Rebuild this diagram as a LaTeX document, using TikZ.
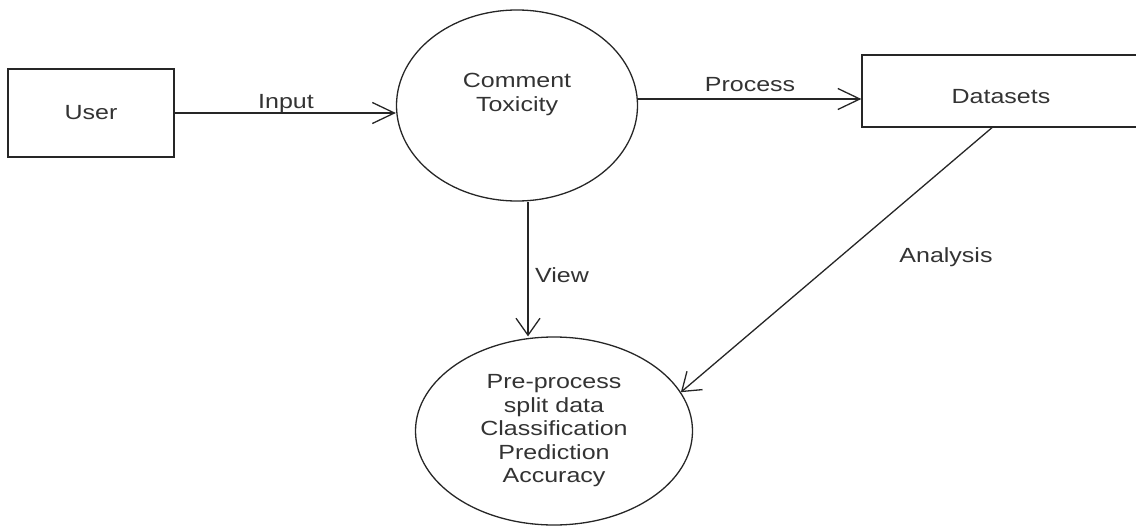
\documentclass[tikz,border=0pt]{standalone}
\usepackage{fontspec}
\setmainfont{Liberation Sans}[FakeStretch=1.22]
\usetikzlibrary{shapes.geometric,arrows.meta}
\tikzset{
  ln/.style={draw=black!85, line width=1.3pt},
  boxnode/.style={ln, rectangle, inner sep=0pt},
  bubble/.style={ln, ellipse, inner sep=0pt, align=center},
  flow/.style={ln, -{Straight Barb[length=17pt,width=24pt]}},
  hflow/.style={ln, -{Straight Barb[length=22pt,width=21pt]}},
  lbl/.style={text=black!80, inner sep=0pt, anchor=base},
}
\begin{document}
\begin{tikzpicture}[x=1pt,y=-1pt,font=\fontsize{20.5}{23.5}\selectfont,text=black!80]
\useasboundingbox (0,0) rectangle (1136,527);

% external entity and processes
\node[boxnode, minimum width=166pt, minimum height=88pt] (user) at (91,113) {User};
\node[bubble, minimum width=241pt, minimum height=191pt] (ctox) at (517,105.5)
  {\raisebox{10.5pt}[\height][\depth]{\begin{tabular}{@{}c@{}}Comment\\Toxicity\end{tabular}}};
\node[bubble, minimum width=277pt, minimum height=188pt] (pp) at (554,431)
  {Pre-process\\split data\\Classification\\Prediction\\Accuracy};

% data store, running off the right edge
\begin{scope}
  \clip (0,0) rectangle (1136,527);
  \node[boxnode, minimum width=278pt, minimum height=72pt] (data) at (1001,91)
    {\raisebox{-6pt}[\height][\depth]{Datasets}};
\end{scope}

% flows
\draw[hflow] (user.east) -- (user.east -| ctox.west);
\draw[hflow] ([yshift=6.5pt]ctox.east) -- ([yshift=-8pt]data.west);
\draw[flow] ([xshift=11pt]ctox.south) -- ([xshift=11pt]ctox.south |- pp.north);
\draw[flow] ([xshift=-9pt]data.south) -- (pp.17);

% flow labels
\node[lbl] (linput) at (286,108) {Input};
\node[lbl] (lproc) at (750,92) {Process};
\node[lbl] (lview) at (562,282) {View};
\node[lbl] (lana) at (946,262) {Analysis};
\end{tikzpicture}
\end{document}
